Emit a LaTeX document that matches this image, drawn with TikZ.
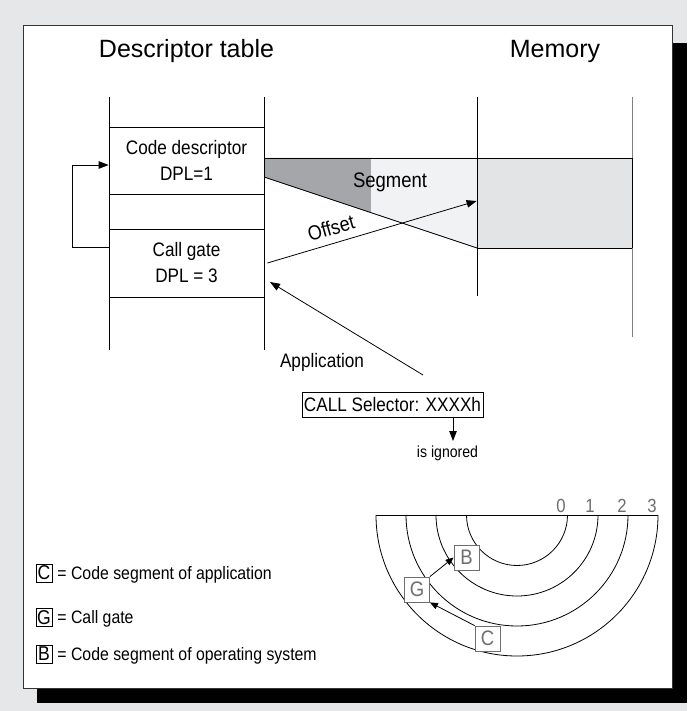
\documentclass[tikz,border=0pt]{standalone}
\usepackage{fontspec}
\setmainfont[FakeStretch=0.88]{Liberation Sans}
\newfontfamily\titlefont{Liberation Sans}
\usetikzlibrary{arrows.meta}
\definecolor{bggray}{HTML}{E6E7E9}
\definecolor{darkseg}{HTML}{A5A6A9}
\definecolor{lightseg}{HTML}{F1F2F4}
\definecolor{memfill}{HTML}{E3E4E6}
\definecolor{ringgray}{HTML}{6E6E6E}
\definecolor{shadowc}{RGB}{0,0,0}
\begin{document}
\begin{tikzpicture}[x=1pt,y=-1pt,line width=0.8pt,
  arr/.style={-{Triangle[length=10pt,width=7.5pt]}},
  sarr/.style={-{Triangle[length=8pt,width=6.5pt]}},
  rowbox/.style={draw,minimum width=155pt,inner sep=0pt,align=center,font=\fontsize{19.5}{26}\selectfont},
  title/.style={anchor=base,font=\titlefont\fontsize{25}{28}\selectfont},
  lbl/.style={font=\fontsize{20.5}{22}\selectfont},
  rbox/.style={draw=ringgray,fill=white,text=ringgray,minimum size=25pt,inner sep=0pt,font=\fontsize{21}{21}\selectfont},
  lbox/.style={draw,fill=white,minimum width=16pt,minimum height=18pt,inner sep=0pt,font=\fontsize{20}{20}\selectfont},
  ltext/.style={anchor=base west,inner sep=0pt,font=\fontsize{18}{20}\selectfont},
  ringlbl/.style={anchor=base,text=ringgray,inner sep=0pt,font=\fontsize{19}{20}\selectfont}]
\path[fill=bggray] (0,0) rectangle (687,711);
\useasboundingbox (0,0) rectangle (687,711);
% panel with shadow
\path[fill=shadowc] (37,43) rectangle (687,703);
\draw[fill=white,draw=black!80,line width=0.7pt] (23,25) rectangle (672,688);
% titles
\node[title] (tdesc) at (186.5,58) {Descriptor table};
\node[title] (tmem) at (555,58) {Memory};
% segment shading
\fill[darkseg] (264,158) -- (371,158) -- (371,212.6) -- (264,177) -- cycle;
\fill[lightseg] (371,158) -- (477,158) -- (477,248) -- (371,212.6) -- cycle;
\node[draw,fill=memfill,minimum width=155pt,minimum height=90pt,inner sep=0pt] (mem) at (554.5,203) {};
\draw (264,158) -- (477,158);
\draw (264,177) -- (477,248);
% table and memory lines
\draw (109,97) -- (109,350);
\draw (264,97) -- (264,350);
\draw (477,97) -- (477,296);
\draw[black!50] (632,97) -- (632,158);
\draw[black!50] (632,248) -- (632,337);
% descriptor rows
\node[rowbox,minimum height=67pt] (cd) at (186.5,160.5) {Code descriptor\\DPL=1};
\node[rowbox,minimum height=68pt] (cg) at (186.5,263) {Call gate\\DPL = 3};
% loop arrow
\draw[arr] (cg.west |- 0,247) -- (72,247) -- (72,165) -- (cd.west |- 0,165);
% segment / offset
\node[anchor=base,font=\fontsize{21}{22}\selectfont] (seg) at (390,188) {Segment};
\draw[arr] ([xshift=3pt]cg.east) -- ([yshift=2pt]mem.west);
\node[lbl,rotate=16,inner sep=1pt] (off) at (331,228) {Offset};
% application
\coordinate (apptail) at (423,375);
\coordinate (gatein) at (270,282);
\draw[arr] (apptail) -- (gatein);
\node[anchor=base,font=\fontsize{19.5}{22}\selectfont] (app) at (322,367) {Application};
\node[draw,minimum width=181pt,minimum height=25pt,inner sep=0pt,font=\fontsize{19.5}{22}\selectfont] (call) at (392.5,404.5) {CALL Selector: XXXXh};
\node[anchor=base,font=\fontsize{16}{18}\selectfont] (ign) at (447.5,457) {is ignored};
\coordinate (igntip) at (453,441);
\draw[arr] (call.south -| igntip) -- (igntip);
% rings
\foreach \r in {50.5,81,111,141} \draw (517-\r,515) arc[start angle=180,end angle=0,radius=\r];
\draw (376,515) -- (658,515);
\node[ringlbl] (r0) at (561,512) {0};
\node[ringlbl] (r1) at (590,512) {1};
\node[ringlbl] (r2) at (622,512) {2};
\node[ringlbl] (r3) at (652,512) {3};
\node[rbox] (B) at (466.5,557.5) {B};
\node[rbox] (G) at (417,589.5) {G};
\node[rbox] (C) at (487.5,638.5) {C};
\draw[sarr] (G.north east) -- (B.west);
\draw[sarr] (C.north west) -- (G.south east);
% legend
\node[lbox] (lC) at (44,573) {C};
\node[ltext] (tC) at (57,579) {= Code segment of application};
\node[lbox] (lG) at (44,617.5) {G};
\node[ltext] (tG) at (57,623) {= Call gate};
\node[lbox] (lB) at (44,654) {B};
\node[ltext] (tB) at (57,660) {= Code segment of operating system};
\end{tikzpicture}
\end{document}
